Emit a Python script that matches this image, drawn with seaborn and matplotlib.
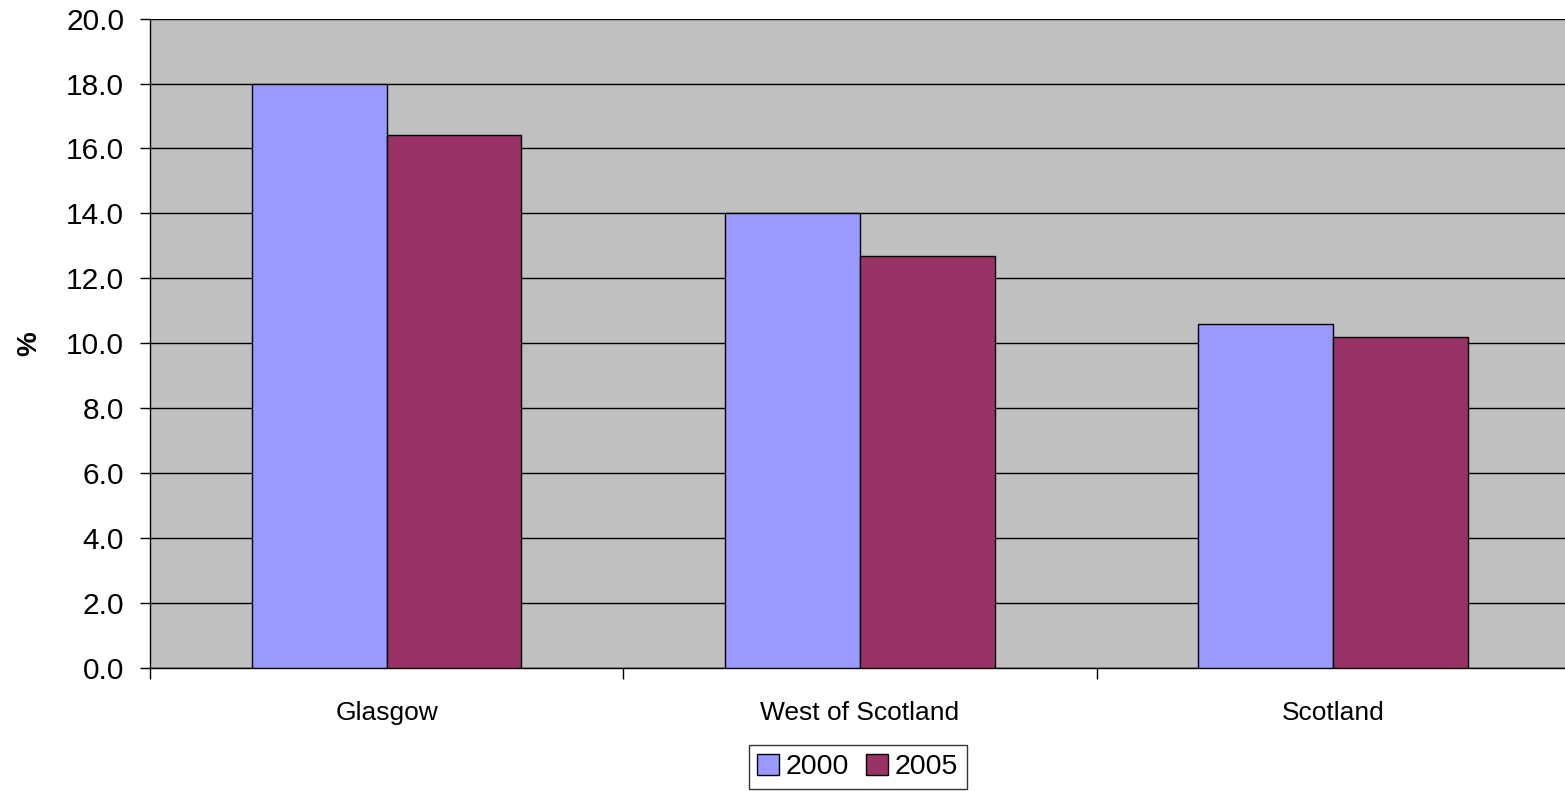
import numpy as np
import pandas as pd
import matplotlib
matplotlib.use("Agg")
import matplotlib.pyplot as plt
import seaborn as sns

# data
areas = ["Glasgow", "West of Scotland", "Scotland"]
years = ["2000", "2005"]
values_2000 = [18.0, 14.0, 10.6]
values_2005 = [16.4, 12.7, 10.2]

df = pd.DataFrame({
    "Area": areas * 2,
    "Year": [years[0]] * 3 + [years[1]] * 3,
    "Value": values_2000 + values_2005,
})

sns.set_style("white")
plt.rcParams["font.family"] = ["Liberation Sans", "DejaVu Sans"]
plt.rcParams["text.color"] = "black"
plt.rcParams["xtick.color"] = "black"
plt.rcParams["ytick.color"] = "black"
plt.rcParams["axes.labelcolor"] = "black"

fig = plt.figure(figsize=(15.65, 7.91), dpi=100)
# plot area runs a little past the right edge of the picture
ax = fig.add_axes([0.0958, 0.1555, 0.9073, 0.821])
ax.set_facecolor("#C0C0C0")

sns.barplot(data=df, x="Area", y="Value", hue="Year", order=areas,
            palette=["#9999FF", "#993366"], width=0.57, saturation=1,
            edgecolor="black", linewidth=1.0, ax=ax, zorder=3)

ax.set_xlim(-0.5, 2.5)
ax.set_ylim(0, 20)
ax.set_yticks(np.arange(0, 20.1, 2))
ax.set_yticklabels([f"{v:.1f}" for v in np.arange(0, 20.1, 2)], fontsize=21.5)
ax.yaxis.grid(True, color="black", linewidth=1.0, zorder=0)
ax.set_axisbelow(True)

# category labels without ticks, tick marks between categories
ax.set_xticks(range(len(areas)))
ax.set_xticklabels(areas, fontsize=19)
ax.tick_params(axis="x", which="major", bottom=True, length=0, pad=24)
ax.set_xticks([-0.5, 0.5, 1.5, 2.5], minor=True)
ax.tick_params(axis="x", which="minor", bottom=True, length=8, width=1,
               color="black", direction="out")
ax.tick_params(axis="y", left=True, length=7.5, width=1, color="black",
               direction="out", pad=11)

for side in ["top", "right"]:
    ax.spines[side].set_visible(False)
for side in ["left", "bottom"]:
    ax.spines[side].set_color("black")
    ax.spines[side].set_linewidth(1.0)

ax.set_xlabel("")
ax.set_ylabel("%", fontsize=20, fontweight="bold", labelpad=17)

leg = ax.legend(loc="upper center", bbox_to_anchor=(0.4985, -0.097), ncol=2,
                frameon=True, fontsize=20.5, handlelength=0.75, handleheight=0.75,
                handletextpad=0.25, columnspacing=0.6, borderpad=0.3,
                fancybox=False, edgecolor="black")
leg.get_frame().set_linewidth(1.0)

fig.savefig("out.png", dpi=100)
